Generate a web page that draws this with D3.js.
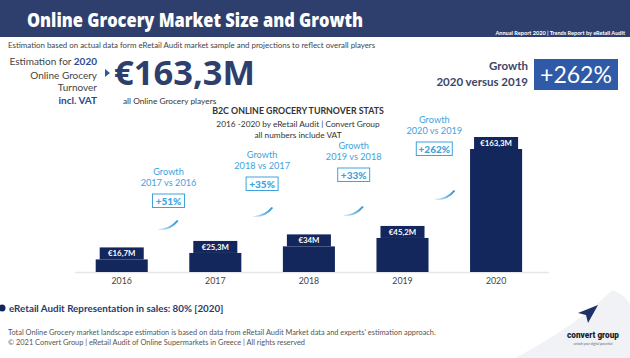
<!DOCTYPE html>
<html><head><meta charset="utf-8">
<script src="https://cdn.jsdelivr.net/npm/d3@7"></script>
<style>html,body{margin:0;padding:0;background:#fff;}svg{display:block;}</style>
</head><body>
<script>
const years = ["2016","2017","2018","2019","2020"];
const values = [16.7, 25.3, 34, 45.2, 163.3];
const valueLabels = ["€16,7M","€25,3M","€34M","€45,2M","€163,3M"];
const growthPeriods = ["2017 vs 2016","2018 vs 2017","2019 vs 2018","2020 vs 2019"];
const growthLabels = ["+51%","+35%","+33%","+262%"];
const headline = "€163,3M";
const headlineGrowth = "+262%";

const W = 630, H = 358;
const svg = d3.select("body").append("svg").attr("width", W).attr("height", H);
const defs = svg.append("defs");
const g1 = defs.append("linearGradient").attr("id","sw").attr("x1","0").attr("x2","1").attr("y1","0").attr("y2","0");
g1.append("stop").attr("offset","0").attr("stop-color","#d6eefa");
g1.append("stop").attr("offset","1").attr("stop-color","#2a8fd2");

const navy = "#13275c", blue = "#3ea3dc", head = "#2e3f6d";
const sans = "Lato, 'Open Sans', sans-serif";

// background swoosh bottom right
svg.append("path").attr("d","M515,358 Q578,325 612,290 Q628,296 630,306 L630,358 Z").attr("fill","#f0f2f6");

// header bar
svg.append("rect").attr("x",0).attr("y",0).attr("width",W).attr("height",37).attr("fill",head);
svg.append("text").attr("x",27).attr("y",27).attr("fill","#fff")
  .attr("font-family","'Open Sans', sans-serif").attr("font-weight",800).attr("font-size",19.5)
  .attr("textLength",336).attr("lengthAdjust","spacingAndGlyphs")
  .text("Online Grocery Market Size and Growth");
svg.append("text").attr("x",625).attr("y",35).attr("text-anchor","end").attr("fill","#fff")
  .attr("font-family",sans).attr("font-weight",700).attr("font-size",5.6)
  .text("Annual Report 2020 | Trends Report by eRetail Audit");

svg.append("text").attr("x",8).attr("y",47.5).attr("fill","#444")
  .attr("font-family",sans).attr("font-size",7.9)
  .text("Estimation based on actual data form eRetail Audit market sample and projections to reflect overall players");

// left block
const lb = svg.append("g").attr("font-family",sans).attr("font-size",10).attr("text-anchor","end").attr("fill","#444");
const t1 = lb.append("text").attr("x",97).attr("y",64.5);
t1.append("tspan").text("Estimation for ");
t1.append("tspan").attr("font-weight",700).attr("fill","#2b4a8c").text("2020");
lb.append("text").attr("x",97).attr("y",78.5).text("Online Grocery");
lb.append("text").attr("x",97).attr("y",90.5).text("Turnover");
lb.append("text").attr("x",97).attr("y",104).attr("font-weight",700).attr("fill","#2b4a8c").text("incl. VAT");
svg.append("path").attr("d","M105,69 L110,73 L105,77 Z").attr("fill","#2d5aa0");

svg.append("text").attr("x",114).attr("y",85).attr("fill",head)
  .attr("font-family","'Open Sans', sans-serif").attr("font-weight",700).attr("font-size",34.5)
  .text(headline);
svg.append("text").attr("x",123).attr("y",104).attr("fill","#333")
  .attr("font-family",sans).attr("font-size",8.3).text("all Online Grocery players");

// right block
const rb = svg.append("g").attr("font-family",sans).attr("font-weight",700).attr("font-size",11.5).attr("text-anchor","end").attr("fill","#3a4668");
rb.append("text").attr("x",528).attr("y",70).text("Growth");
rb.append("text").attr("x",528).attr("y",85.5).text("2020 versus 2019");
svg.append("rect").attr("x",534).attr("y",59).attr("width",84).attr("height",31).attr("fill","#2f5aa8");
svg.append("text").attr("x",576).attr("y",83).attr("text-anchor","middle").attr("fill","#fff")
  .attr("font-family",sans).attr("font-size",23).text(headlineGrowth);

// chart titles
const ct = svg.append("g").attr("font-family",sans).attr("text-anchor","middle").attr("fill","#333");
ct.append("text").attr("x",298).attr("y",113.5).attr("font-weight",700).attr("font-size",8.8).text("B2C ONLINE GROCERY TURNOVER STATS");
ct.append("text").attr("x",298).attr("y",127).attr("font-size",8.3).text("2016 -2020 by eRetail Audit | Convert Group");
ct.append("text").attr("x",298).attr("y",138).attr("font-size",8.3).text("all numbers include VAT");

// scales
const x = d3.scaleBand().domain(years).range([95.7, 522.1]).paddingInner(0.444).paddingOuter(0);
const y = d3.scaleLinear().domain([0, 163.3]).range([272, 149]);

// baseline
svg.append("line").attr("x1",75).attr("x2",549).attr("y1",y(0)+0.5).attr("y2",y(0)+0.5).attr("stroke","#e4e6ea").attr("stroke-width",1.5);

const bars = svg.append("g");
bars.selectAll("rect.bar").data(values).join("rect").attr("class","bar")
  .attr("x",(d,i)=>x(years[i])).attr("width",x.bandwidth())
  .attr("y",d=>y(d)).attr("height",d=>y(0)-y(d)).attr("fill",navy);
bars.selectAll("rect.tab").data(values).join("rect").attr("class","tab")
  .attr("x",(d,i)=>x(years[i])+4).attr("width",x.bandwidth()-8)
  .attr("y",d=>y(d)-12).attr("height",12).attr("fill",navy);
bars.selectAll("text.vl").data(valueLabels).join("text").attr("class","vl")
  .attr("x",(d,i)=>x(years[i])+x.bandwidth()/2).attr("y",(d,i)=>y(values[i])-3.3)
  .attr("text-anchor","middle").attr("fill","#fff").attr("font-family",sans).attr("font-weight",700).attr("font-size",7.8)
  .text(d=>d);

// x axis labels
const xAxis = d3.axisBottom(x).tickSize(0).tickPadding(6);
const ax = svg.append("g").attr("transform",`translate(0,${y(0)})`).call(xAxis);
ax.select(".domain").remove();
ax.selectAll("text").attr("font-family",sans).attr("font-size",8.8).attr("fill","#444");

// growth annotations (layout: box center x offset from midpoint, box top y)
const annLayout = [{dx:0, top:194, swx:-10, swy:220},{dx:0, top:177, swx:-9, swy:207},{dx:-2, top:168, swx:-10, swy:206},{dx:-15, top:142, swx:1, swy:190}];
growthLabels.forEach((lab,i)=>{
  const cx = (x(years[i]) + x(years[i+1]) + x.bandwidth())/2 + annLayout[i].dx;
  const top = annLayout[i].top;
  const g = svg.append("g").attr("font-family",sans).attr("text-anchor","middle").attr("fill",blue);
  g.append("text").attr("x",cx).attr("y",top-19).attr("font-size",9.2).text("Growth");
  g.append("text").attr("x",cx).attr("y",top-8).attr("font-size",9.2).text(growthPeriods[i]);
  const bw = lab.length > 4 ? 36 : 32;
  g.append("rect").attr("x",cx-bw/2).attr("y",top).attr("width",bw).attr("height",13.5)
    .attr("fill","#fff").attr("stroke",blue).attr("stroke-width",1);
  g.append("text").attr("x",cx).attr("y",top+10.5).attr("font-size",10).attr("font-weight",900).text(lab);
  const sx = cx + annLayout[i].swx, sy = annLayout[i].swy;
  svg.append("path").attr("transform",`translate(${sx},${sy})`)
    .attr("d","M0,9 Q11,8.5 18.5,0 L20,1 Q13,10.5 0,10 Z").attr("fill","url(#sw)");
});

// bottom
svg.append("circle").attr("cx",2).attr("cy",308).attr("r",3.5).attr("fill",navy);
svg.append("text").attr("x",9).attr("y",311.5).attr("fill","#2a3a6a")
  .attr("font-family",sans).attr("font-weight",700).attr("font-size",9.8)
  .text("eRetail Audit Representation in sales: 80% [2020]");
svg.append("text").attr("x",8).attr("y",334.5).attr("fill","#555").attr("font-family",sans).attr("font-size",7.4)
  .text("Total Online Grocery market landscape estimation is based on data from eRetail Audit Market data and experts' estimation approach.");
svg.append("text").attr("x",8).attr("y",344.5).attr("fill","#555").attr("font-family",sans).attr("font-size",7.4)
  .text("© 2021 Convert Group | eRetail Audit of Online Supermarkets in Greece | All rights reserved");

// logo
svg.append("path").attr("d","M598,305 L588,323 L586,315 L578,313 Z").attr("fill","#1e3268");
svg.append("text").attr("x",593).attr("y",338).attr("text-anchor","middle").attr("fill","#222")
  .attr("font-family","Roboto, sans-serif").attr("font-weight",900).attr("font-size",8.2)
  .text("convert group");
svg.append("text").attr("x",593).attr("y",345).attr("text-anchor","middle").attr("fill","#666")
  .attr("font-family",sans).attr("font-size",3.2).text("unlock your digital potential");
</script>
</body></html>
